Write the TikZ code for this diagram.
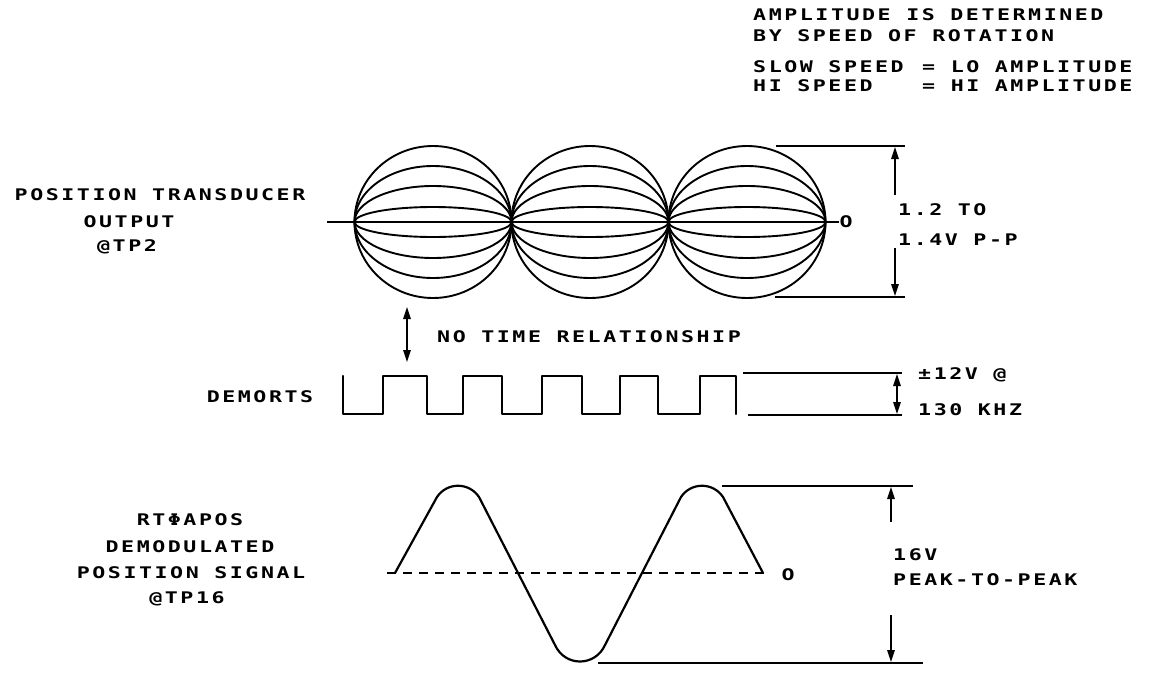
\documentclass[tikz,border=0pt]{standalone}
\usepackage{fontspec}
\newfontfamily\pf[FakeStretch=1.35,LetterSpace=16]{DejaVu Sans Mono}
\usetikzlibrary{arrows.meta}
\begin{document}
\begin{tikzpicture}[x=1pt,y=-1pt,
  lbl/.style={font=\pf\bfseries\fontsize{16}{18}\selectfont, inner sep=0pt},
  wave/.style={line width=2.2pt, line join=round, line cap=round},
  lens/.style={line width=1.9pt},
  dim/.style={line width=1.5pt},
  arr/.style={line width=1.5pt, -{Triangle[length=12pt,width=7.5pt]}},
  darr/.style={line width=1.5pt, {Triangle[length=12pt,width=7.5pt]}-{Triangle[length=12pt,width=7.5pt]}}]
\useasboundingbox (0,0) rectangle (1150,677);

% ---------- top-right notes ----------
\node[lbl,anchor=west] (n1) at (753,15) {AMPLITUDE IS DETERMINED};
\node[lbl,anchor=west] (n2) at (753,36) {BY SPEED OF ROTATION};
\node[lbl,anchor=west] (n3a) at (753,67) {SLOW SPEED};
\node[lbl,anchor=west] (n3b) at (922,67) {= LO AMPLITUDE};
\node[lbl,anchor=west] (n4a) at (753,86) {HI SPEED};
\node[lbl,anchor=west] (n4b) at (922,86) {= HI AMPLITUDE};

% ---------- position transducer output ----------
\node[lbl] (p1) at (160,195) {POSITION TRANSDUCER};
\node[lbl] (p2) at (129,222) {OUTPUT};
\node[lbl] (p3) at (127,247) {@TP2};

\foreach \cx in {433,590,747}{
  \foreach \h in {76,56,36,15}{
    \draw[lens] (\cx,222) ellipse [x radius=78.5, y radius=\h];
  }
}
\coordinate (zl) at (327,222);
\node[lbl] (zo) at (846,222) {O};
\draw[lens] (zl) -- (zo.west);

% dimension 1.2 to 1.4 V
\coordinate (t1a) at (776,146); \coordinate (t1b) at (905,146);
\coordinate (b1a) at (775,297); \coordinate (b1b) at (905,297);
\draw[dim] (t1a) -- (t1b);
\draw[dim] (b1a) -- (b1b);
\coordinate (a1t) at (895,147); \coordinate (a1s) at (895,195);
\coordinate (a1u) at (895,248); \coordinate (a1b) at (895,296);
\draw[arr] (a1s) -- (a1t);
\draw[arr] (a1u) -- (a1b);
\node[lbl,anchor=west] (v1) at (898,210) {1.2 TO};
\node[lbl,anchor=west] (v2) at (898,240) {1.4V P-P};

% ---------- no time relationship ----------
\coordinate (nt1) at (407,307); \coordinate (nt2) at (407,362);
\draw[darr] (nt1) -- (nt2);
\node[lbl,anchor=west] (nt) at (437,337) {NO TIME RELATIONSHIP};

% ---------- DEMORTS ----------
\node[lbl] (dm) at (260,397) {DEMORTS};
\draw[wave] (343,376) -- (343,414) -- (383,414) -- (383,376) -- (427,376)
  -- (427,414) -- (463,414) -- (463,376) -- (502,376) -- (502,414)
  -- (542,414) -- (542,376) -- (582,376) -- (582,414) -- (620,414)
  -- (620,376) -- (658,376) -- (658,414) -- (700,414) -- (700,376)
  -- (736,376) -- (736,414);
\coordinate (t2a) at (743,373); \coordinate (t2b) at (902,373);
\coordinate (b2a) at (748,415); \coordinate (b2b) at (902,415);
\draw[dim] (t2a) -- (t2b);
\draw[dim] (b2a) -- (b2b);
\coordinate (a2m) at (897,394); \coordinate (a2t) at (897,374);
\coordinate (a2b) at (897,414);
\draw[arr] (a2m) -- (a2t);
\draw[arr] (a2m) -- (a2b);
\node[lbl,anchor=west] (d1) at (918,375) {±12V @};
\node[lbl,anchor=west] (d2) at (918,410) {130 KHZ};

% ---------- RT-PHI-APOS ----------
\node[lbl] (r1) at (190,520) {RTΦAPOS};
\node[lbl] (r2) at (190,547) {DEMODULATED};
\node[lbl] (r3) at (191,573) {POSITION SIGNAL};
\node[lbl] (r4) at (187,599) {@TP16};

\coordinate (bl) at (387,573);
\node[lbl] (bo) at (788,575) {O};
\draw[dim, dash pattern=on 9pt off 7pt] (bl) -- (770,573);
\draw[wave] (395,573) -- (437,497)
  .. controls (447,482) and (469,482) .. (479,497)
  -- (555,645)
  .. controls (565,667) and (595,667) .. (605,645)
  -- (681,497)
  .. controls (691,482) and (713,482) .. (723,497)
  -- (763,573);

\coordinate (t3a) at (722,486); \coordinate (t3b) at (913,486);
\coordinate (b3a) at (598,663); \coordinate (b3b) at (923,663);
\draw[dim] (t3a) -- (t3b);
\draw[dim] (b3a) -- (b3b);
\coordinate (a3s) at (891,522); \coordinate (a3t) at (891,487);
\coordinate (a3u) at (891,615); \coordinate (a3b) at (891,662);
\draw[arr] (a3s) -- (a3t);
\draw[arr] (a3u) -- (a3b);
\node[lbl,anchor=west] (s1) at (893,555) {16V};
\node[lbl,anchor=west] (s2) at (893,580) {PEAK-TO-PEAK};
\end{tikzpicture}
\end{document}
